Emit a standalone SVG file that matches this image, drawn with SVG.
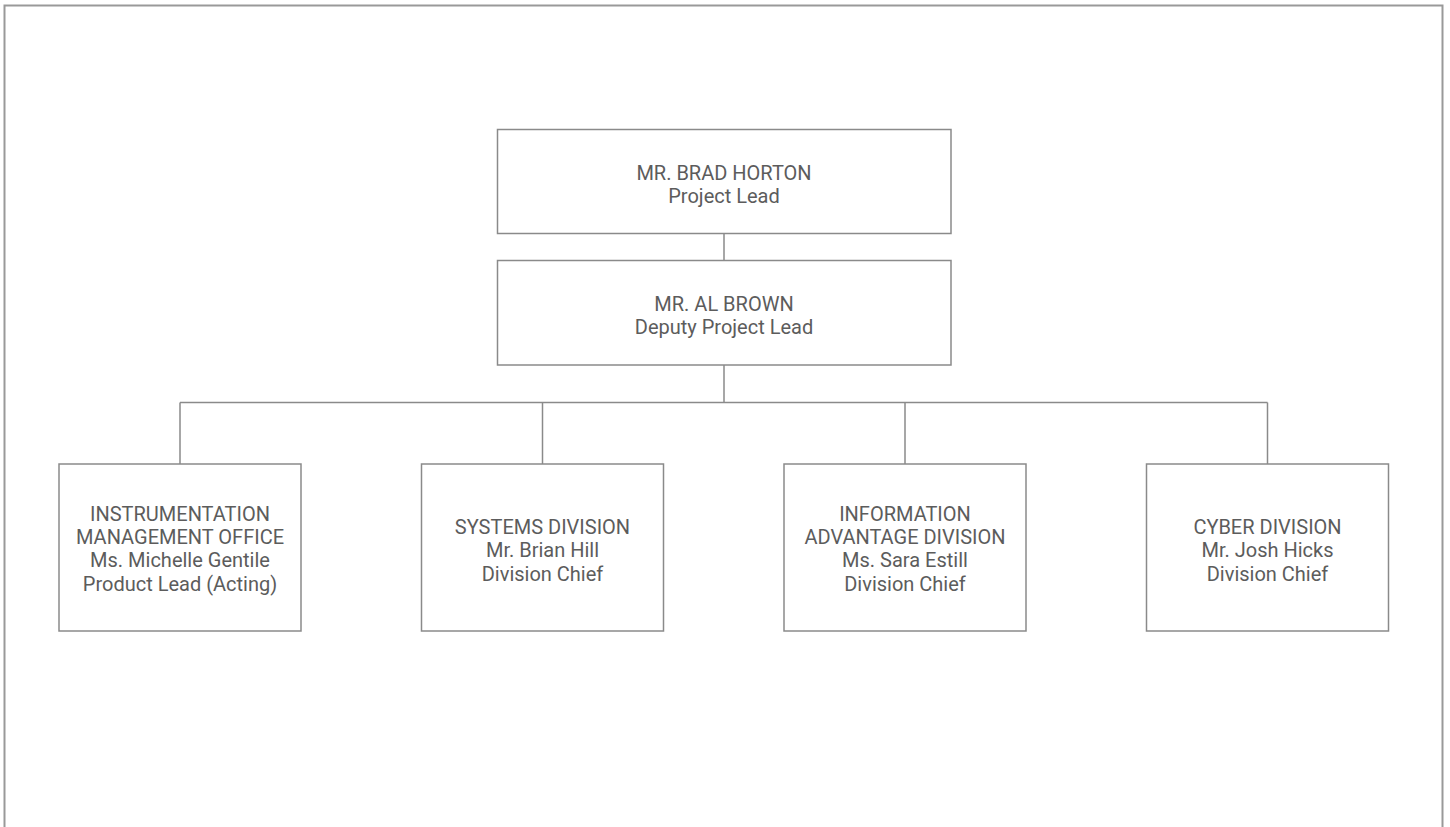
<svg xmlns="http://www.w3.org/2000/svg" width="1450" height="827" viewBox="0 0 1450 827">
<style>
.box{fill:#fff;stroke:#8a8a8a;stroke-width:1.5}
.ln{fill:none;stroke:#8a8a8a;stroke-width:1.5}
.t{font-family:Roboto,"Liberation Sans",sans-serif;font-size:20px;fill:#5c5c5c;text-anchor:middle}
</style>
<rect x="0" y="0" width="1450" height="827" fill="#fff"/>
<path d="M4.5,827 V5.5 H1442.5 V827" fill="none" stroke="#999" stroke-width="2"/>
<g id="connectors" class="ln">
<path d="M724,233.5 V260.5"/>
<path d="M724,365 V402.5"/>
<path d="M180,402.5 H1267.5"/>
<path d="M180,402.5 V464"/>
<path d="M542.5,402.5 V464"/>
<path d="M905,402.5 V464"/>
<path d="M1267.5,402.5 V464"/>
</g>
<g id="node-horton">
<rect class="box" x="497.5" y="129.5" width="453.5" height="104"/>
<text class="t" x="724" y="180">MR. BRAD HORTON</text>
<text class="t" x="724" y="203.3">Project Lead</text>
</g>
<g id="node-brown">
<rect class="box" x="497.5" y="260.5" width="453.5" height="104.5"/>
<text class="t" x="724" y="311">MR. AL BROWN</text>
<text class="t" x="724" y="334.3">Deputy Project Lead</text>
</g>
<g id="node-imo">
<rect class="box" x="59" y="464" width="242" height="167"/>
<text class="t" x="180" y="520.7">INSTRUMENTATION</text>
<text class="t" x="180" y="544">MANAGEMENT OFFICE</text>
<text class="t" x="180" y="567.3">Ms. Michelle Gentile</text>
<text class="t" x="180" y="590.6">Product Lead (Acting)</text>
</g>
<g id="node-systems">
<rect class="box" x="421.5" y="464" width="242" height="167"/>
<text class="t" x="542.5" y="534">SYSTEMS DIVISION</text>
<text class="t" x="542.5" y="557.3">Mr. Brian Hill</text>
<text class="t" x="542.5" y="580.6">Division Chief</text>
</g>
<g id="node-info">
<rect class="box" x="784" y="464" width="242" height="167"/>
<text class="t" x="905" y="520.7">INFORMATION</text>
<text class="t" x="905" y="544">ADVANTAGE DIVISION</text>
<text class="t" x="905" y="567.3">Ms. Sara Estill</text>
<text class="t" x="905" y="590.6">Division Chief</text>
</g>
<g id="node-cyber">
<rect class="box" x="1146.5" y="464" width="242" height="167"/>
<text class="t" x="1267.5" y="534">CYBER DIVISION</text>
<text class="t" x="1267.5" y="557.3">Mr. Josh Hicks</text>
<text class="t" x="1267.5" y="580.6">Division Chief</text>
</g>
</svg>
